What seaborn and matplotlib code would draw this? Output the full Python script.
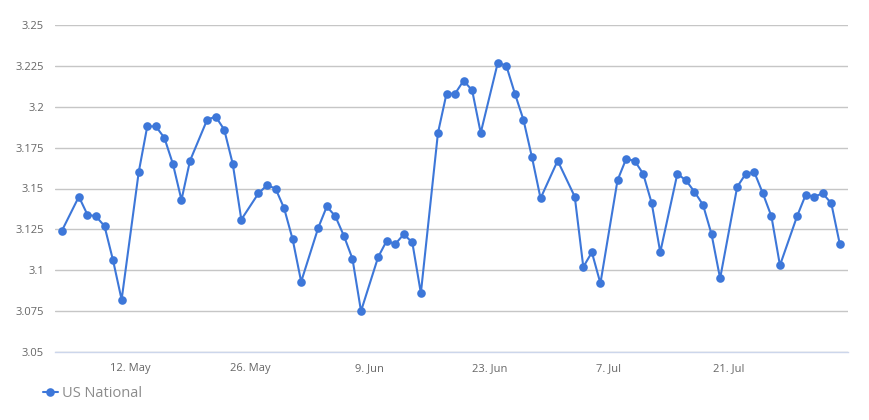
import matplotlib
matplotlib.use("Agg")
import matplotlib.pyplot as plt
import matplotlib.dates as mdates
import numpy as np
import pandas as pd
import seaborn as sns

# Datos (dias sin dato se omiten)
fechas = [
    "2019-05-04", "2019-05-06", "2019-05-07", "2019-05-08", "2019-05-09", "2019-05-10", "2019-05-11",
    "2019-05-13", "2019-05-14", "2019-05-15", "2019-05-16", "2019-05-17", "2019-05-18", "2019-05-19",
    "2019-05-21", "2019-05-22", "2019-05-23", "2019-05-24", "2019-05-25",
    "2019-05-27", "2019-05-28", "2019-05-29", "2019-05-30", "2019-05-31", "2019-06-01",
    "2019-06-03", "2019-06-04", "2019-06-05", "2019-06-06", "2019-06-07", "2019-06-08",
    "2019-06-10", "2019-06-11", "2019-06-12", "2019-06-13", "2019-06-14", "2019-06-15",
    "2019-06-17", "2019-06-18", "2019-06-19", "2019-06-20", "2019-06-21", "2019-06-22",
    "2019-06-24", "2019-06-25", "2019-06-26", "2019-06-27", "2019-06-28", "2019-06-29",
    "2019-07-01", "2019-07-03", "2019-07-04", "2019-07-05", "2019-07-06",
    "2019-07-08", "2019-07-09", "2019-07-10", "2019-07-11", "2019-07-12", "2019-07-13",
    "2019-07-15", "2019-07-16", "2019-07-17", "2019-07-18", "2019-07-19", "2019-07-20",
    "2019-07-22", "2019-07-23", "2019-07-24", "2019-07-25", "2019-07-26", "2019-07-27",
    "2019-07-29", "2019-07-30", "2019-07-31", "2019-08-01", "2019-08-02", "2019-08-03",
]
precios = [
    3.124, 3.145, 3.134, 3.133, 3.127, 3.106, 3.082,
    3.160, 3.188, 3.188, 3.181, 3.165, 3.143, 3.167,
    3.192, 3.194, 3.186, 3.165, 3.131,
    3.147, 3.152, 3.150, 3.138, 3.119, 3.093,
    3.126, 3.139, 3.133, 3.121, 3.107, 3.075,
    3.108, 3.118, 3.116, 3.122, 3.117, 3.086,
    3.184, 3.208, 3.208, 3.216, 3.210, 3.184,
    3.227, 3.225, 3.208, 3.192, 3.169, 3.144,
    3.167, 3.145, 3.102, 3.111, 3.092,
    3.155, 3.168, 3.167, 3.159, 3.141, 3.111,
    3.159, 3.155, 3.148, 3.140, 3.122, 3.095,
    3.151, 3.159, 3.160, 3.147, 3.133, 3.103,
    3.133, 3.146, 3.145, 3.147, 3.141, 3.116,
]
serie = "US National"
ticks_y = [3.05, 3.075, 3.1, 3.125, 3.15, 3.175, 3.2, 3.225, 3.25]
etiquetas_y = ["3.05", "3.075", "3.1", "3.125", "3.15", "3.175", "3.2", "3.225", "3.25"]
ticks_x = ["2019-05-12", "2019-05-26", "2019-06-09", "2019-06-23", "2019-07-07", "2019-07-21"]

df = pd.DataFrame({"fecha": pd.to_datetime(fechas), "precio": precios, "serie": serie})

sns.set_style("white")
plt.rcParams["font.family"] = ["Open Sans", "DejaVu Sans"]

color = "#3d77d9"
fig = plt.figure(figsize=(8.69, 4.2), dpi=100)
ax = fig.add_axes([55 / 869, 1 - 352 / 420, (848 - 55) / 869, (352 - 25) / 420])

sns.lineplot(data=df, x="fecha", y="precio", hue="serie", palette=[color],
             marker="o", markersize=6.2, markeredgewidth=0, linewidth=1.5, ax=ax)

ax.set_ylim(3.05, 3.25)
ax.set_yticks(ticks_y)
ax.set_yticklabels(etiquetas_y)
ax.set_xlim(pd.Timestamp("2019-05-03 05:00"), pd.Timestamp("2019-08-03 23:00"))
ax.set_xticks(pd.to_datetime(ticks_x))
ax.xaxis.set_major_formatter(mdates.DateFormatter("%-d. %b"))

ax.grid(axis="y", color="#c6c6c6", linewidth=1)
ax.set_axisbelow(True)
for lado in ["top", "right", "left"]:
    ax.spines[lado].set_visible(False)
ax.spines["bottom"].set_color("#ccd6eb")
ax.spines["bottom"].set_linewidth(1)

ax.tick_params(axis="y", length=0, pad=8, labelsize=8, labelcolor="#666666")
ax.tick_params(axis="x", length=5, width=1, color="#ccd6eb", pad=3, labelsize=8, labelcolor="#666666")
ax.set_xlabel("")
ax.set_ylabel("")

ax.legend(loc="lower left", bbox_to_anchor=(30 / 869, 6 / 420), bbox_transform=fig.transFigure,
          frameon=False, handlelength=1.0, handletextpad=0.3, fontsize=10.5, labelcolor="#8c8c8c")

fig.savefig("out.png", dpi=100)
